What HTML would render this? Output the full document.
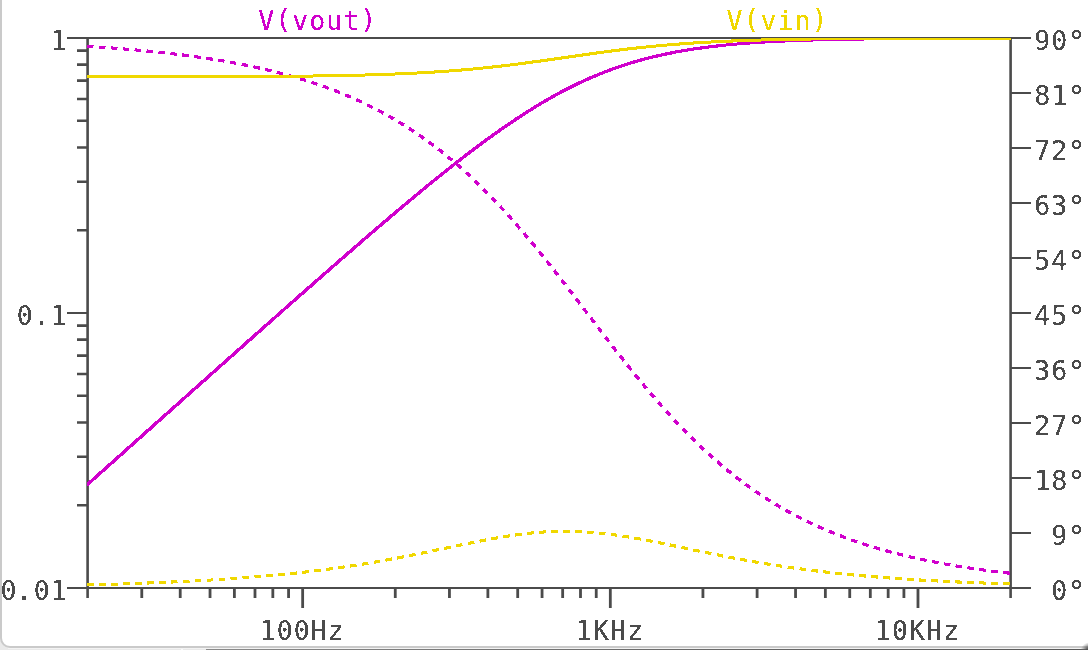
<!DOCTYPE html>
<html><head><meta charset="utf-8"><title>LTspice plot</title>
<style>
html,body{margin:0;padding:0;background:#fff;}
body{width:1088px;height:650px;overflow:hidden;position:relative;}
svg{position:absolute;left:0;top:0;display:block;}
#lbl{will-change:transform;}
text{font-family:"DejaVu Sans Mono","Liberation Mono",monospace;font-size:26.5px;letter-spacing:1.046px;stroke-width:0px;}
</style></head><body>
<svg width="1088" height="650" viewBox="0 0 1088 650">
<defs><linearGradient id="bg" x1="0" x2="1" y1="0" y2="0"><stop offset="0" stop-color="#8a8a8a"/><stop offset="0.5" stop-color="#6c6c6c"/><stop offset="1" stop-color="#585858"/></linearGradient><radialGradient id="cg" cx="1090" cy="652" r="10" gradientUnits="userSpaceOnUse"><stop offset="0" stop-color="#3c3c3c"/><stop offset="0.45" stop-color="#555555" stop-opacity="0.9"/><stop offset="1" stop-color="#777777" stop-opacity="0"/></radialGradient></defs>
<rect x="0" y="0" width="1088" height="650" fill="#e9e9e9"/>
<rect x="8" y="648" width="1078" height="1" fill="#f3f3f3"/>
<rect x="181" y="649" width="2" height="1" fill="#fafafa"/>
<rect x="206" y="649" width="882" height="1" fill="url(#bg)"/>
<rect x="1" y="-20" width="1107" height="667" rx="9" ry="9" fill="#ffffff" stroke="#cacaca" stroke-width="2"/>
<circle cx="1090" cy="652" r="10" fill="url(#cg)"/>
<g stroke="#4b4b4b" fill="none" stroke-linecap="butt">
<path stroke-width="2" d="M67 38.00 H1031 M67 588.00 H1031"/>
<path stroke-width="2.6" d="M87.60 38.00 V598.00 M1010.60 38.00 V598.00"/>
<path stroke-width="2.6" d="M77 505.22 H87.60 M77 456.79 H87.60 M77 422.43 H87.60 M77 395.78 H87.60 M77 374.01 H87.60 M77 355.60 H87.60 M77 339.65 H87.60 M77 325.58 H87.60 M77 230.22 H87.60 M77 181.79 H87.60 M77 147.43 H87.60 M77 120.78 H87.60 M77 99.01 H87.60 M77 80.60 H87.60 M77 64.65 H87.60 M77 50.58 H87.60"/>
<path stroke-width="2" d="M67 313.00 H87.60"/>
<path stroke-width="2" d="M1010.60 533.00 H1031 M1010.60 478.00 H1031 M1010.60 423.00 H1031 M1010.60 368.00 H1031 M1010.60 313.00 H1031 M1010.60 258.00 H1031 M1010.60 203.00 H1031 M1010.60 148.00 H1031 M1010.60 93.00 H1031"/>
<path stroke-width="2.8" d="M141.78 588.00 V598.00 M180.22 588.00 V598.00 M210.03 588.00 V598.00 M234.39 588.00 V598.00 M254.99 588.00 V598.00 M272.83 588.00 V598.00 M288.57 588.00 V598.00 M395.27 588.00 V598.00 M449.44 588.00 V598.00 M487.88 588.00 V598.00 M517.70 588.00 V598.00 M542.06 588.00 V598.00 M562.66 588.00 V598.00 M580.50 588.00 V598.00 M596.24 588.00 V598.00 M702.93 588.00 V598.00 M757.11 588.00 V598.00 M795.55 588.00 V598.00 M825.37 588.00 V598.00 M849.73 588.00 V598.00 M870.32 588.00 V598.00 M888.17 588.00 V598.00 M903.91 588.00 V598.00"/>
<path stroke-width="2.8" d="M302.65 588.00 V608.00 M610.32 588.00 V608.00 M917.98 588.00 V608.00"/>
</g>
<clipPath id="pc"><rect x="86.90" y="38.00" width="924.10" height="553.00"/></clipPath>
<g stroke="none" clip-path="url(#pc)" shape-rendering="crispEdges">
<path fill="#d000cc" d="M85.5 484.1L87.5 482.3L89.5 480.5L91.5 478.7L93.5 476.9L95.5 475.1L97.5 473.3L99.5 471.5L101.5 469.7L103.5 468.0L105.5 466.2L107.5 464.4L109.5 462.6L111.5 460.8L113.5 459.0L115.5 457.2L117.5 455.4L119.5 453.7L121.5 451.9L123.5 450.1L125.5 448.3L127.5 446.5L129.5 444.7L131.5 442.9L133.5 441.1L135.5 439.4L137.5 437.6L139.5 435.8L141.5 434.0L143.5 432.2L145.5 430.4L147.5 428.6L149.5 426.8L151.5 425.1L153.5 423.3L155.5 421.5L157.5 419.7L159.5 417.9L161.6 416.1L163.6 414.3L165.6 412.5L167.6 410.8L169.6 409.0L171.6 407.2L173.6 405.4L175.6 403.6L177.6 401.8L179.6 400.0L181.6 398.3L183.6 396.5L185.6 394.7L187.6 392.9L189.6 391.1L191.6 389.3L193.6 387.5L195.6 385.8L197.6 384.0L199.6 382.2L201.6 380.4L203.6 378.6L205.6 376.8L207.6 375.1L209.6 373.3L211.6 371.5L213.6 369.7L215.6 367.9L217.6 366.1L219.6 364.4L221.6 362.6L223.6 360.8L225.6 359.0L227.6 357.2L229.6 355.5L231.6 353.7L233.6 351.9L235.6 350.1L237.6 348.3L239.6 346.6L241.6 344.8L243.6 343.0L245.6 341.2L247.6 339.4L249.6 337.7L251.7 335.9L253.7 334.1L255.7 332.3L257.7 330.5L259.7 328.8L261.7 327.0L263.7 325.2L265.7 323.4L267.7 321.7L269.7 319.9L271.7 318.1L273.7 316.4L275.7 314.6L277.7 312.8L279.7 311.0L281.7 309.3L283.7 307.5L285.7 305.7L287.7 304.0L289.7 302.2L291.7 300.4L293.7 298.6L295.7 296.9L297.7 295.1L299.7 293.3L301.7 291.6L303.7 289.8L305.7 288.1L307.7 286.3L309.7 284.5L311.7 282.8L313.7 281.0L315.7 279.2L317.7 277.5L319.7 275.7L321.7 274.0L323.7 272.2L325.7 270.5L327.7 268.7L329.7 267.0L331.7 265.2L333.8 263.5L335.8 261.7L337.8 260.0L339.8 258.2L341.8 256.5L343.8 254.7L345.8 253.0L347.8 251.2L349.8 249.5L351.8 247.8L353.8 246.0L355.8 244.3L357.8 242.6L359.8 240.8L361.8 239.1L363.8 237.4L365.8 235.6L367.8 233.9L369.8 232.2L371.8 230.5L373.8 228.7L375.8 227.0L377.8 225.3L379.8 223.6L381.8 221.9L383.8 220.2L385.8 218.5L387.8 216.8L389.8 215.1L391.8 213.4L393.8 211.7L395.8 210.0L397.8 208.3L399.8 206.6L401.9 204.9L403.9 203.2L405.9 201.6L407.9 199.9L409.9 198.2L411.9 196.5L413.9 194.9L415.9 193.2L417.9 191.6L419.9 189.9L421.9 188.2L423.9 186.6L425.9 185.0L427.9 183.3L429.9 181.7L431.9 180.0L433.9 178.4L435.9 176.8L437.9 175.2L439.9 173.6L441.9 172.0L443.9 170.4L445.9 168.8L447.9 167.2L449.9 165.6L451.9 164.0L454.0 162.4L456.0 160.9L458.0 159.3L460.0 157.7L462.0 156.2L464.0 154.6L466.0 153.1L468.0 151.6L470.0 150.0L472.0 148.5L474.0 147.0L476.0 145.5L478.0 144.0L480.0 142.5L482.0 141.0L484.0 139.5L486.0 138.1L488.0 136.6L490.0 135.2L492.1 133.7L494.1 132.3L496.1 130.9L498.1 129.4L500.1 128.0L502.1 126.6L504.1 125.2L506.1 123.8L508.1 122.5L510.1 121.1L512.1 119.8L514.1 118.4L516.1 117.1L518.1 115.8L520.2 114.5L522.2 113.2L524.2 111.9L526.2 110.6L528.2 109.3L530.2 108.1L532.2 106.8L534.2 105.6L536.2 104.3L538.2 103.1L540.2 101.9L542.2 100.7L544.3 99.6L546.3 98.4L548.3 97.3L550.3 96.1L552.3 95.0L554.3 93.9L556.3 92.8L558.3 91.7L560.3 90.6L562.3 89.6L564.4 88.5L566.4 87.5L568.4 86.4L570.4 85.4L572.4 84.4L574.4 83.5L576.4 82.5L578.4 81.5L580.4 80.6L582.4 79.7L584.5 78.7L586.5 77.8L588.5 76.9L590.5 76.1L592.5 75.2L594.5 74.4L596.5 73.5L598.5 72.7L600.5 71.9L602.6 71.1L604.6 70.3L606.6 69.5L608.6 68.8L610.6 68.0L612.6 67.3L614.6 66.6L616.6 65.9L618.7 65.2L620.7 64.5L622.7 63.9L624.7 63.2L626.7 62.6L628.7 61.9L630.7 61.3L632.7 60.7L634.7 60.1L636.8 59.5L638.8 59.0L640.8 58.4L642.8 57.9L644.8 57.3L646.8 56.8L648.8 56.3L650.8 55.8L652.8 55.3L654.8 54.8L656.9 54.4L658.9 53.9L660.9 53.5L662.9 53.0L664.9 52.6L666.9 52.2L668.9 51.8L670.9 51.4L672.9 51.0L674.9 50.6L677.0 50.2L679.0 49.9L681.0 49.5L683.0 49.1L685.0 48.8L687.0 48.5L689.0 48.2L691.0 47.8L693.0 47.5L695.0 47.2L697.0 46.9L699.0 46.7L701.1 46.4L703.1 46.1L705.1 45.9L707.1 45.6L709.1 45.3L711.1 45.1L713.1 44.9L715.1 44.6L717.1 44.4L719.1 44.2L721.1 44.0L723.1 43.8L725.1 43.6L727.1 43.4L729.1 43.2L731.2 43.0L733.2 42.8L735.2 42.6L737.2 42.5L739.2 42.3L741.2 42.1L743.2 42.0L745.2 41.8L747.2 41.7L749.2 41.5L751.2 41.4L753.2 41.2L755.2 41.1L757.2 41.0L759.2 40.8L761.2 40.7L763.2 40.6L765.2 40.5L767.3 40.4L769.3 40.3L771.3 40.1L773.3 40.0L775.3 39.9L777.3 39.8L779.3 39.7L781.3 39.7L783.3 39.6L785.3 39.5L787.3 39.4L789.3 39.3L791.3 39.2L793.3 39.1L795.3 39.1L797.3 39.0L799.3 38.9L801.3 38.9L803.3 38.8L805.3 38.7L807.3 38.7L809.3 38.6L811.3 38.5L813.3 38.5L815.3 38.4L817.3 38.4L819.4 38.3L821.4 38.3L823.4 38.2L825.4 38.2L827.4 38.1L829.4 38.1L831.4 38.0L833.4 38.0L835.4 37.9L837.4 37.9L839.4 37.8L841.4 37.8L843.4 37.8L845.4 37.7L847.4 37.7L849.4 37.7L851.4 37.6L853.4 37.6L855.4 37.6L857.4 37.5L859.4 37.5L861.4 37.5L863.4 37.4L865.4 37.4L867.4 37.4L869.4 37.4L871.4 37.3L873.4 37.3L875.4 37.3L877.4 37.3L879.4 37.2L881.4 37.2L883.4 37.2L885.4 37.2L887.5 37.2L889.5 37.1L891.5 37.1L893.5 37.1L895.5 37.1L897.5 37.1L899.5 37.1L901.5 37.0L903.5 37.0L905.5 37.0L907.5 37.0L909.5 37.0L911.5 37.0L913.5 36.9L915.5 36.9L917.5 36.9L919.5 36.9L921.5 36.9L923.5 36.9L925.5 36.9L927.5 36.9L929.5 36.9L931.5 36.8L933.5 36.8L935.5 36.8L937.5 36.8L939.5 36.8L941.5 36.8L943.5 36.8L945.5 36.8L947.5 36.8L949.5 36.8L951.5 36.8L953.5 36.7L955.5 36.7L957.5 36.7L959.5 36.7L961.5 36.7L963.5 36.7L965.5 36.7L967.5 36.7L969.6 36.7L971.6 36.7L973.6 36.7L975.6 36.7L977.6 36.7L979.6 36.7L981.6 36.7L983.6 36.7L985.6 36.7L987.6 36.6L989.6 36.6L991.6 36.6L993.6 36.6L995.6 36.6L997.6 36.6L999.6 36.6L1001.6 36.6L1003.6 36.6L1005.6 36.6L1007.6 36.6L1009.6 36.6L1011.6 36.6L1011.6 39.6L1009.6 39.6L1007.6 39.6L1005.6 39.6L1003.6 39.6L1001.6 39.6L999.6 39.6L997.6 39.6L995.6 39.6L993.6 39.6L991.6 39.6L989.6 39.6L987.6 39.6L985.6 39.7L983.6 39.7L981.6 39.7L979.6 39.7L977.6 39.7L975.6 39.7L973.6 39.7L971.6 39.7L969.6 39.7L967.6 39.7L965.6 39.7L963.6 39.7L961.6 39.7L959.5 39.7L957.5 39.7L955.5 39.7L953.5 39.7L951.5 39.8L949.5 39.8L947.5 39.8L945.5 39.8L943.5 39.8L941.5 39.8L939.5 39.8L937.5 39.8L935.5 39.8L933.5 39.8L931.5 39.8L929.5 39.9L927.5 39.9L925.5 39.9L923.5 39.9L921.5 39.9L919.5 39.9L917.5 39.9L915.5 39.9L913.5 40.0L911.5 40.0L909.5 40.0L907.5 40.0L905.5 40.0L903.5 40.0L901.5 40.0L899.5 40.1L897.5 40.1L895.5 40.1L893.5 40.1L891.5 40.1L889.5 40.1L887.5 40.2L885.5 40.2L883.5 40.2L881.5 40.2L879.5 40.2L877.5 40.3L875.5 40.3L873.5 40.3L871.5 40.3L869.5 40.4L867.5 40.4L865.5 40.4L863.5 40.5L861.5 40.5L859.5 40.5L857.5 40.5L855.5 40.6L853.5 40.6L851.5 40.6L849.5 40.7L847.4 40.7L845.4 40.7L843.4 40.8L841.4 40.8L839.4 40.9L837.4 40.9L835.4 40.9L833.4 41.0L831.4 41.0L829.4 41.1L827.4 41.1L825.4 41.2L823.4 41.2L821.4 41.3L819.4 41.3L817.4 41.4L815.4 41.4L813.4 41.5L811.4 41.6L809.4 41.6L807.4 41.7L805.4 41.7L803.4 41.8L801.4 41.9L799.4 42.0L797.4 42.0L795.4 42.1L793.4 42.2L791.4 42.3L789.4 42.3L787.4 42.4L785.4 42.5L783.4 42.6L781.4 42.7L779.4 42.8L777.4 42.9L775.4 43.0L773.4 43.1L771.4 43.2L769.4 43.3L767.4 43.4L765.4 43.5L763.4 43.6L761.4 43.8L759.4 43.9L757.4 44.0L755.4 44.1L753.4 44.3L751.4 44.4L749.4 44.6L747.4 44.7L745.4 44.9L743.4 45.0L741.4 45.2L739.4 45.3L737.4 45.5L735.4 45.7L733.4 45.9L731.4 46.1L729.4 46.2L727.4 46.4L725.4 46.6L723.4 46.8L721.4 47.0L719.5 47.3L717.5 47.5L715.5 47.7L713.5 47.9L711.5 48.2L709.5 48.4L707.5 48.7L705.5 48.9L703.5 49.2L701.5 49.5L699.5 49.7L697.5 50.0L695.5 50.3L693.5 50.6L691.5 50.9L689.5 51.2L687.5 51.6L685.5 51.9L683.5 52.2L681.5 52.6L679.5 52.9L677.5 53.3L675.5 53.7L673.5 54.1L671.5 54.5L669.5 54.9L667.5 55.3L665.6 55.7L663.6 56.1L661.6 56.5L659.6 57.0L657.6 57.5L655.6 57.9L653.6 58.4L651.6 58.9L649.6 59.4L647.6 59.9L645.6 60.4L643.6 61.0L641.6 61.5L639.6 62.1L637.6 62.6L635.6 63.2L633.7 63.8L631.7 64.4L629.7 65.0L627.7 65.6L625.7 66.3L623.7 66.9L621.7 67.6L619.7 68.3L617.7 69.0L615.7 69.7L613.7 70.4L611.7 71.1L609.7 71.8L607.7 72.6L605.8 73.4L603.8 74.1L601.8 74.9L599.8 75.7L597.8 76.6L595.8 77.4L593.8 78.2L591.8 79.1L589.8 80.0L587.8 80.8L585.8 81.7L583.8 82.7L581.8 83.6L579.8 84.5L577.8 85.5L575.9 86.4L573.9 87.4L571.9 88.4L569.9 89.4L567.9 90.4L565.9 91.5L563.9 92.5L561.9 93.6L559.9 94.6L557.9 95.7L555.9 96.8L553.9 97.9L551.9 99.0L549.9 100.2L547.9 101.3L545.9 102.5L543.9 103.6L541.9 104.8L540.0 106.0L538.0 107.2L536.0 108.4L534.0 109.7L532.0 110.9L530.0 112.2L528.0 113.4L526.0 114.7L524.0 116.0L522.0 117.3L520.0 118.6L518.0 119.9L516.0 121.2L514.0 122.6L512.0 123.9L510.0 125.3L508.0 126.6L506.0 128.0L504.0 129.4L502.0 130.8L500.0 132.2L498.0 133.6L496.0 135.0L494.0 136.5L492.0 137.9L490.0 139.3L488.0 140.8L486.0 142.3L484.0 143.7L482.0 145.2L480.0 146.7L478.0 148.2L476.0 149.7L474.0 151.2L472.0 152.7L470.0 154.2L468.0 155.8L466.0 157.3L464.0 158.9L462.0 160.4L460.0 162.0L458.0 163.5L456.0 165.1L454.0 166.7L452.0 168.2L450.0 169.8L448.0 171.4L446.0 173.0L444.0 174.6L442.0 176.2L440.0 177.8L438.0 179.4L436.0 181.1L434.0 182.7L432.0 184.3L430.0 185.9L428.0 187.6L426.0 189.2L424.0 190.9L422.0 192.5L420.0 194.2L418.0 195.8L416.0 197.5L414.0 199.1L412.0 200.8L410.0 202.5L408.0 204.2L406.0 205.8L404.0 207.5L402.0 209.2L400.0 210.9L398.0 212.6L396.0 214.3L394.0 216.0L392.0 217.7L390.0 219.4L388.0 221.1L386.0 222.8L384.0 224.5L382.0 226.2L380.0 227.9L378.0 229.6L376.0 231.3L374.0 233.0L372.0 234.8L370.0 236.5L368.0 238.2L366.0 239.9L364.0 241.7L362.0 243.4L360.0 245.1L358.0 246.9L356.0 248.6L354.0 250.3L352.0 252.1L350.0 253.8L348.0 255.5L346.0 257.3L344.0 259.0L342.0 260.8L340.0 262.5L338.0 264.3L336.0 266.0L334.0 267.8L332.0 269.5L330.0 271.3L328.0 273.0L326.0 274.8L324.0 276.5L322.0 278.3L320.0 280.0L318.0 281.8L316.0 283.6L314.0 285.3L312.0 287.1L310.0 288.8L308.0 290.6L306.0 292.4L304.0 294.1L302.0 295.9L300.0 297.7L298.0 299.4L295.9 301.2L293.9 303.0L291.9 304.7L289.9 306.5L287.9 308.3L285.9 310.0L283.9 311.8L281.9 313.6L279.9 315.3L277.9 317.1L275.9 318.9L273.9 320.7L271.9 322.4L269.9 324.2L267.9 326.0L265.9 327.8L263.9 329.5L261.9 331.3L259.9 333.1L257.9 334.9L255.9 336.6L253.9 338.4L251.9 340.2L249.9 342.0L247.9 343.8L245.9 345.5L243.9 347.3L241.9 349.1L239.9 350.9L237.9 352.7L235.9 354.4L233.9 356.2L231.9 358.0L229.9 359.8L227.9 361.6L225.9 363.3L223.9 365.1L221.9 366.9L219.9 368.7L217.9 370.5L215.9 372.2L213.9 374.0L211.9 375.8L209.9 377.6L207.9 379.4L205.9 381.2L203.9 382.9L201.9 384.7L199.9 386.5L197.8 388.3L195.8 390.1L193.8 391.9L191.8 393.7L189.8 395.4L187.8 397.2L185.8 399.0L183.8 400.8L181.8 402.6L179.8 404.4L177.8 406.2L175.8 407.9L173.8 409.7L171.8 411.5L169.8 413.3L167.8 415.1L165.8 416.9L163.8 418.7L161.8 420.4L159.8 422.2L157.8 424.0L155.8 425.8L153.8 427.6L151.8 429.4L149.8 431.2L147.8 432.9L145.8 434.7L143.8 436.5L141.8 438.3L139.8 440.1L137.8 441.9L135.8 443.7L133.8 445.5L131.8 447.2L129.8 449.0L127.8 450.8L125.8 452.6L123.8 454.4L121.8 456.2L119.8 458.0L117.8 459.8L115.8 461.6L113.8 463.3L111.8 465.1L109.8 466.9L107.8 468.7L105.8 470.5L103.7 472.3L101.7 474.1L99.7 475.9L97.7 477.6L95.7 479.4L93.7 481.2L91.7 483.0L89.7 484.8L87.7 486.6Z"/>
<path fill="#d000cc" d="M86.8 44.8L88.7 44.9L90.7 45.0L92.7 45.1L93.6 45.2L93.4 48.2L92.5 48.2L90.5 48.0L88.5 47.9L86.6 47.8ZM98.7 45.5L100.7 45.7L102.7 45.8L104.7 45.9L105.6 46.0L105.4 49.1L104.5 49.0L102.5 48.9L100.5 48.7L98.5 48.6ZM110.7 46.4L112.7 46.5L114.7 46.7L116.8 46.8L117.6 46.9L117.3 49.9L116.5 49.9L114.5 49.7L112.5 49.6L110.5 49.4ZM122.7 47.3L124.8 47.5L126.8 47.6L128.8 47.8L129.5 47.9L129.3 50.9L128.5 50.9L126.5 50.7L124.5 50.5L122.5 50.4ZM134.7 48.3L134.8 48.3L136.8 48.5L138.8 48.7L140.8 48.9L141.5 48.9L141.2 52.0L140.5 51.9L138.5 51.7L136.5 51.6L134.5 51.4L134.4 51.4ZM146.7 49.4L146.8 49.4L148.8 49.6L150.8 49.8L152.8 50.0L153.4 50.1L153.1 53.2L152.5 53.1L150.5 52.9L148.5 52.7L146.5 52.5L146.4 52.5ZM158.6 50.6L158.8 50.6L160.8 50.9L162.8 51.1L164.9 51.3L165.4 51.4L165.0 54.4L164.5 54.4L162.5 54.1L160.5 53.9L158.5 53.7L158.3 53.7ZM170.6 51.9L170.9 52.0L172.9 52.2L174.9 52.5L176.9 52.7L177.3 52.7L176.9 55.8L176.5 55.8L174.5 55.5L172.5 55.3L170.5 55.1L170.2 55.0ZM182.5 53.4L182.9 53.4L184.9 53.7L186.9 54.0L188.9 54.2L189.2 54.3L188.8 57.3L188.5 57.3L186.5 57.0L184.5 56.8L182.5 56.5L182.1 56.5ZM194.4 55.0L194.9 55.0L196.9 55.3L198.9 55.6L200.9 55.9L201.1 55.9L200.7 59.0L200.5 59.0L198.5 58.7L196.5 58.4L194.5 58.1L194.0 58.0ZM206.3 56.7L207.0 56.8L209.0 57.1L211.0 57.4L213.0 57.7L212.5 60.8L210.5 60.5L208.5 60.2L206.5 59.9L205.9 59.8ZM218.2 58.5L219.0 58.7L221.0 59.0L223.0 59.3L224.8 59.7L224.3 62.7L222.5 62.4L220.5 62.1L218.5 61.8L217.7 61.6ZM230.1 60.6L231.0 60.8L233.0 61.1L235.0 61.5L236.6 61.8L236.1 64.9L234.5 64.6L232.5 64.2L230.5 63.8L229.5 63.7ZM241.9 62.8L243.1 63.0L245.1 63.4L247.1 63.8L248.4 64.1L247.8 67.2L246.5 66.9L244.5 66.5L242.5 66.1L241.3 65.9ZM253.7 65.2L255.1 65.5L257.1 66.0L259.1 66.4L260.2 66.6L259.5 69.7L258.4 69.5L256.4 69.0L254.4 68.6L253.1 68.3ZM265.5 67.8L267.2 68.2L269.2 68.7L271.2 69.2L271.9 69.4L271.1 72.5L270.4 72.3L268.4 71.8L266.4 71.3L264.8 70.9ZM277.2 70.7L279.2 71.2L281.2 71.7L283.2 72.3L283.5 72.3L282.7 75.4L282.4 75.4L280.4 74.8L278.4 74.3L276.4 73.8ZM288.8 73.8L289.2 73.9L291.3 74.5L293.3 75.0L295.1 75.6L294.2 78.6L292.4 78.1L290.4 77.5L288.4 77.0L288.0 76.9ZM300.4 77.1L301.3 77.4L303.3 78.0L305.3 78.6L306.6 79.0L305.6 82.1L304.4 81.7L302.4 81.1L300.4 80.5L299.5 80.2ZM311.9 80.7L313.4 81.2L315.4 81.9L317.4 82.6L318.0 82.8L317.0 85.8L316.3 85.6L314.3 84.9L312.3 84.3L310.9 83.8ZM323.3 84.6L323.4 84.6L325.4 85.4L327.4 86.1L329.3 86.8L328.2 89.9L326.3 89.2L324.3 88.4L322.3 87.7L322.3 87.7ZM334.7 88.8L335.5 89.1L337.5 89.9L339.5 90.7L340.6 91.1L339.3 94.2L338.3 93.7L336.3 93.0L334.3 92.2L333.5 91.9ZM345.9 93.3L347.5 94.0L349.5 94.9L351.5 95.7L351.7 95.8L350.3 98.8L350.2 98.7L348.2 97.9L346.2 97.0L344.6 96.3ZM356.9 98.1L357.6 98.4L359.6 99.3L361.6 100.2L362.6 100.7L361.2 103.7L360.2 103.2L358.2 102.3L356.2 101.4L355.6 101.1ZM367.9 103.2L369.6 104.1L371.7 105.1L373.4 106.0L371.9 109.0L370.2 108.1L368.2 107.1L366.4 106.2ZM378.6 108.7L379.7 109.2L381.7 110.3L383.7 111.4L384.1 111.6L382.5 114.5L382.1 114.3L380.1 113.2L378.1 112.2L377.1 111.6ZM389.2 114.4L389.7 114.7L391.8 115.9L393.8 117.0L394.6 117.5L392.9 120.4L392.1 119.9L390.1 118.8L388.1 117.6L387.6 117.3ZM399.6 120.5L399.8 120.6L401.8 121.8L403.8 123.1L404.9 123.7L403.1 126.6L402.1 125.9L400.1 124.7L398.1 123.5L397.9 123.4ZM409.9 126.9L411.9 128.2L413.9 129.5L415.0 130.3L413.1 133.1L412.0 132.3L410.0 131.0L408.1 129.7ZM419.9 133.6L421.9 135.0L423.9 136.4L424.9 137.1L422.9 139.8L422.0 139.2L420.0 137.8L418.0 136.4ZM429.7 140.6L430.0 140.7L432.0 142.2L434.0 143.7L434.6 144.2L432.6 146.9L432.0 146.4L430.0 144.9L428.0 143.5L427.7 143.3ZM439.4 147.8L440.0 148.3L442.0 149.9L444.0 151.5L444.1 151.6L442.0 154.2L441.9 154.2L439.9 152.6L437.9 151.0L437.3 150.5ZM448.8 155.4L450.1 156.4L452.1 158.1L453.4 159.2L451.2 161.8L449.9 160.7L447.9 159.0L446.6 158.0ZM458.0 163.1L458.1 163.2L460.1 165.0L462.1 166.8L462.5 167.1L460.3 169.6L459.9 169.3L457.9 167.5L455.9 165.8L455.8 165.7ZM467.0 171.1L468.2 172.2L470.2 174.0L471.4 175.2L469.1 177.7L467.9 176.5L465.9 174.7L464.7 173.6ZM475.8 179.3L476.2 179.7L478.2 181.6L480.1 183.5L477.8 185.9L475.8 184.1L473.8 182.2L473.5 181.8ZM484.4 187.7L486.2 189.5L488.2 191.6L488.7 192.0L486.2 194.4L485.8 193.9L483.8 191.9L482.0 190.1ZM492.9 196.3L494.3 197.7L496.3 199.8L497.0 200.6L494.6 203.0L493.8 202.2L491.8 200.1L490.4 198.7ZM501.1 205.0L502.3 206.3L504.3 208.4L505.2 209.5L502.7 211.7L501.8 210.7L499.8 208.6L498.7 207.3ZM509.3 213.9L510.3 215.1L512.3 217.3L513.3 218.4L510.7 220.6L509.8 219.6L507.8 217.3L506.7 216.2ZM517.2 222.9L518.3 224.2L520.4 226.5L521.2 227.4L518.6 229.7L517.8 228.7L515.8 226.4L514.7 225.1ZM525.1 232.0L526.4 233.5L528.4 235.9L529.0 236.6L526.4 238.8L525.8 238.1L523.8 235.7L522.5 234.2ZM532.8 241.2L534.4 243.1L536.4 245.5L536.7 245.9L534.0 248.0L533.8 247.7L531.8 245.3L530.2 243.4ZM540.4 250.5L542.4 252.9L544.2 255.2L541.6 257.3L539.8 255.0L537.8 252.6ZM548.0 259.8L548.4 260.4L550.4 262.9L551.7 264.6L549.1 266.7L547.8 265.0L545.8 262.5L545.3 262.0ZM555.4 269.3L556.4 270.5L558.4 273.1L559.2 274.0L556.5 276.1L555.8 275.2L553.8 272.6L552.8 271.4ZM562.8 278.7L564.5 280.8L566.5 283.4L566.5 283.5L563.9 285.6L563.8 285.5L561.8 282.9L560.2 280.8ZM570.2 288.2L570.5 288.6L572.5 291.2L573.9 293.0L571.2 295.1L569.8 293.3L567.8 290.7L567.5 290.3ZM577.5 297.7L578.5 299.0L580.5 301.6L581.2 302.5L578.5 304.6L577.8 303.7L575.8 301.1L574.8 299.8ZM584.8 307.3L586.5 309.5L588.4 312.1L585.8 314.1L583.8 311.6L582.1 309.3ZM592.1 316.8L592.5 317.4L594.5 320.0L595.7 321.6L593.0 323.7L591.8 322.1L589.8 319.4L589.4 318.9ZM599.3 326.3L600.5 327.8L602.5 330.5L603.0 331.1L600.3 333.2L599.8 332.5L597.8 329.9L596.7 328.4ZM606.7 335.9L608.5 338.3L610.3 340.6L607.7 342.7L605.8 340.3L604.0 337.9ZM614.0 345.3L614.5 346.0L616.5 348.6L617.7 350.1L615.0 352.2L613.8 350.7L611.8 348.1L611.3 347.4ZM621.4 354.8L622.5 356.2L624.5 358.8L625.1 359.5L622.5 361.6L621.9 360.9L619.8 358.3L618.7 356.9ZM628.8 364.2L630.5 366.3L632.5 368.8L632.6 368.9L630.0 371.0L629.9 370.9L627.9 368.4L626.2 366.3ZM636.3 373.5L636.5 373.7L638.5 376.2L640.2 378.2L637.5 380.3L635.9 378.3L633.9 375.9L633.7 375.7ZM644.0 382.8L644.5 383.4L646.5 385.8L647.8 387.4L645.2 389.6L643.9 388.0L641.9 385.6L641.3 384.9ZM651.7 392.0L652.5 392.9L654.5 395.3L655.6 396.5L653.0 398.7L651.9 397.5L649.9 395.1L649.1 394.2ZM659.5 401.0L660.5 402.2L662.5 404.5L663.4 405.5L660.9 407.8L659.9 406.7L657.9 404.4L656.9 403.3ZM667.4 410.0L668.5 411.2L670.5 413.4L671.5 414.4L669.0 416.7L668.0 415.6L666.0 413.4L664.9 412.3ZM675.5 418.8L676.5 419.8L678.5 422.0L679.6 423.2L677.2 425.5L676.0 424.3L674.0 422.2L673.0 421.1ZM683.8 427.5L684.5 428.2L686.5 430.3L687.9 431.8L685.5 434.2L684.0 432.7L682.0 430.6L681.3 429.9ZM692.2 436.0L692.5 436.3L694.4 438.3L696.4 440.2L694.1 442.7L692.1 440.7L690.1 438.7L689.8 438.4ZM700.7 444.4L702.4 446.0L704.4 447.8L705.1 448.5L702.8 451.0L702.1 450.3L700.1 448.4L698.4 446.8ZM709.5 452.5L710.4 453.3L712.4 455.1L713.9 456.5L711.7 459.1L710.1 457.7L708.1 455.9L707.2 455.0ZM718.4 460.4L720.4 462.1L722.4 463.8L723.0 464.3L720.8 466.9L720.2 466.4L718.2 464.7L716.2 463.0ZM727.6 468.2L728.4 468.8L730.4 470.4L732.2 471.9L730.1 474.6L728.2 473.1L726.2 471.4L725.4 470.8ZM736.9 475.6L738.3 476.7L740.3 478.2L741.7 479.3L739.6 482.0L738.3 480.9L736.3 479.4L734.8 478.3ZM746.4 482.8L748.3 484.2L750.3 485.6L751.3 486.3L749.4 489.1L748.3 488.3L746.3 486.9L744.4 485.5ZM756.2 489.7L756.3 489.8L758.3 491.2L760.3 492.5L761.2 493.1L759.3 495.9L758.4 495.3L756.4 493.9L754.4 492.6L754.2 492.5ZM766.1 496.4L766.2 496.4L768.2 497.7L770.2 499.0L771.2 499.6L769.4 502.5L768.4 501.8L766.4 500.6L764.4 499.3L764.3 499.2ZM776.2 502.7L778.2 503.9L780.2 505.1L781.5 505.8L779.8 508.7L778.5 507.9L776.5 506.8L774.5 505.5ZM786.5 508.7L788.2 509.6L790.2 510.7L791.9 511.7L790.3 514.6L788.6 513.7L786.5 512.5L784.9 511.6ZM797.0 514.4L798.1 515.0L800.1 516.0L802.1 517.0L802.5 517.2L801.0 520.2L800.6 520.0L798.6 519.0L796.6 518.0L795.5 517.4ZM807.7 519.8L808.1 520.0L810.1 521.0L812.1 521.9L813.2 522.5L811.8 525.5L810.7 524.9L808.7 524.0L806.7 523.0L806.2 522.8ZM818.4 524.9L820.1 525.6L822.1 526.5L824.1 527.4L824.1 527.4L822.8 530.4L822.7 530.4L820.7 529.5L818.7 528.6L817.1 527.9ZM829.4 529.6L830.0 529.9L832.0 530.7L834.0 531.5L835.2 532.0L834.0 535.1L832.8 534.6L830.8 533.8L828.8 532.9L828.1 532.7ZM840.5 534.1L842.0 534.7L844.0 535.4L846.0 536.2L846.4 536.3L845.2 539.4L844.9 539.3L842.8 538.5L840.8 537.7L839.3 537.1ZM851.6 538.3L852.0 538.4L854.0 539.1L856.0 539.8L857.6 540.4L856.6 543.4L854.9 542.8L852.9 542.1L850.9 541.4L850.5 541.3ZM862.9 542.1L863.9 542.5L865.9 543.1L867.9 543.7L869.0 544.1L868.1 547.2L867.0 546.8L864.9 546.2L862.9 545.5L861.9 545.2ZM874.3 545.7L875.9 546.2L877.9 546.8L879.9 547.4L880.5 547.5L879.6 550.6L879.0 550.5L877.0 549.9L875.0 549.3L873.4 548.8ZM885.8 549.1L885.9 549.1L887.9 549.6L889.9 550.2L891.9 550.7L892.0 550.8L891.2 553.8L891.1 553.8L889.1 553.3L887.0 552.7L885.0 552.2L884.9 552.1ZM897.3 552.1L897.9 552.3L899.9 552.8L901.9 553.3L903.7 553.7L902.9 556.8L901.1 556.4L899.1 555.9L897.1 555.4L896.5 555.2ZM908.9 555.0L909.8 555.2L911.8 555.7L913.8 556.1L915.3 556.4L914.6 559.5L913.1 559.2L911.1 558.8L909.1 558.3L908.2 558.1ZM920.6 557.6L921.8 557.9L923.8 558.3L925.8 558.7L927.0 559.0L926.4 562.1L925.2 561.8L923.2 561.4L921.2 561.0L919.9 560.7ZM932.3 560.0L933.8 560.3L935.8 560.7L937.8 561.1L938.8 561.3L938.2 564.4L937.2 564.2L935.2 563.8L933.2 563.4L931.7 563.1ZM944.1 562.2L945.8 562.6L947.8 562.9L949.8 563.3L950.6 563.4L950.1 566.5L949.3 566.4L947.3 566.0L945.3 565.6L943.5 565.3ZM955.9 564.3L957.8 564.6L959.8 564.9L961.8 565.3L962.4 565.4L962.0 568.4L961.3 568.3L959.3 568.0L957.3 567.7L955.3 567.4ZM967.7 566.2L967.8 566.2L969.8 566.5L971.8 566.8L973.8 567.1L974.3 567.2L973.9 570.2L973.3 570.2L971.3 569.9L969.3 569.6L967.3 569.3L967.2 569.3ZM979.5 567.9L979.8 567.9L981.8 568.2L983.8 568.5L985.8 568.7L986.2 568.8L985.8 571.9L985.4 571.8L983.4 571.6L981.4 571.3L979.4 571.0L979.1 571.0ZM991.4 569.5L991.8 569.5L993.8 569.8L995.8 570.0L997.8 570.3L998.1 570.3L997.7 573.4L997.4 573.3L995.4 573.1L993.4 572.8L991.4 572.6L991.0 572.5ZM1003.3 570.9L1003.8 571.0L1005.8 571.2L1007.8 571.4L1009.8 571.7L1010.0 571.7L1009.7 574.8L1009.4 574.7L1007.4 574.5L1005.4 574.3L1003.4 574.0L1002.9 574.0Z"/>
<path fill="#f0d800" d="M86.6 75.3L88.6 75.3L90.6 75.3L92.6 75.3L94.6 75.3L96.6 75.3L98.6 75.3L100.6 75.3L102.6 75.3L104.6 75.3L106.6 75.3L108.6 75.3L110.6 75.3L112.6 75.3L114.6 75.3L116.6 75.3L118.6 75.3L120.6 75.3L122.6 75.3L124.6 75.3L126.6 75.3L128.6 75.3L130.6 75.3L132.6 75.3L134.7 75.3L136.7 75.3L138.7 75.3L140.7 75.3L142.7 75.3L144.7 75.3L146.7 75.3L148.7 75.3L150.7 75.3L152.7 75.3L154.7 75.3L156.7 75.3L158.7 75.3L160.7 75.3L162.7 75.3L164.7 75.3L166.7 75.3L168.7 75.2L170.7 75.2L172.7 75.2L174.7 75.2L176.7 75.2L178.7 75.2L180.7 75.2L182.7 75.2L184.7 75.2L186.7 75.2L188.7 75.2L190.7 75.2L192.7 75.2L194.7 75.2L196.7 75.2L198.7 75.2L200.7 75.2L202.7 75.2L204.7 75.2L206.7 75.2L208.7 75.2L210.7 75.2L212.7 75.2L214.7 75.1L216.7 75.1L218.7 75.1L220.7 75.1L222.7 75.1L224.7 75.1L226.7 75.1L228.7 75.1L230.7 75.1L232.8 75.1L234.8 75.1L236.8 75.1L238.8 75.1L240.8 75.0L242.8 75.0L244.8 75.0L246.8 75.0L248.8 75.0L250.8 75.0L252.8 75.0L254.8 75.0L256.8 75.0L258.8 75.0L260.8 74.9L262.8 74.9L264.8 74.9L266.8 74.9L268.8 74.9L270.8 74.9L272.8 74.9L274.8 74.8L276.8 74.8L278.8 74.8L280.8 74.8L282.8 74.8L284.8 74.8L286.8 74.7L288.8 74.7L290.8 74.7L292.8 74.7L294.8 74.7L296.8 74.7L298.8 74.6L300.8 74.6L302.8 74.6L304.8 74.6L306.8 74.5L308.8 74.5L310.8 74.5L312.8 74.5L314.8 74.4L316.8 74.4L318.8 74.4L320.8 74.4L322.8 74.3L324.8 74.3L326.8 74.3L328.8 74.2L330.8 74.2L332.8 74.2L334.8 74.1L336.8 74.1L338.8 74.1L340.8 74.0L342.8 74.0L344.8 73.9L346.8 73.9L348.9 73.9L350.9 73.8L352.9 73.8L354.9 73.7L356.9 73.7L358.9 73.6L360.9 73.6L362.9 73.5L364.9 73.5L366.9 73.4L368.9 73.4L370.9 73.3L372.9 73.2L374.9 73.2L376.9 73.1L378.9 73.1L380.9 73.0L382.9 72.9L384.9 72.9L386.9 72.8L388.9 72.7L390.9 72.6L392.9 72.6L394.9 72.5L396.9 72.4L398.9 72.3L400.9 72.2L402.9 72.2L404.9 72.1L406.9 72.0L408.9 71.9L410.9 71.8L412.9 71.7L414.9 71.6L416.9 71.5L418.9 71.4L420.9 71.3L422.9 71.2L424.9 71.0L426.9 70.9L428.9 70.8L430.9 70.7L432.9 70.6L434.9 70.4L436.9 70.3L438.9 70.2L440.9 70.0L442.9 69.9L444.9 69.8L446.9 69.6L448.9 69.5L450.9 69.3L452.9 69.2L454.9 69.0L456.9 68.8L458.9 68.7L460.9 68.5L462.9 68.3L464.9 68.2L466.9 68.0L468.9 67.8L470.9 67.6L472.9 67.5L474.9 67.3L476.9 67.1L478.9 66.9L480.9 66.7L482.9 66.5L484.9 66.3L486.9 66.1L488.9 65.8L490.9 65.6L492.9 65.4L494.9 65.2L496.9 65.0L498.9 64.7L500.9 64.5L502.9 64.3L504.9 64.0L506.9 63.8L508.9 63.6L510.9 63.3L512.9 63.1L514.9 62.8L516.9 62.6L518.9 62.3L520.9 62.0L522.9 61.8L524.9 61.5L526.9 61.3L528.9 61.0L530.9 60.7L532.9 60.4L534.9 60.2L536.9 59.9L538.9 59.6L540.9 59.3L542.9 59.1L544.9 58.8L546.9 58.5L548.9 58.2L550.9 57.9L552.9 57.6L554.9 57.4L556.9 57.1L558.9 56.8L560.9 56.5L562.9 56.2L564.9 55.9L566.9 55.6L568.9 55.3L570.9 55.0L572.9 54.8L574.9 54.5L576.9 54.2L578.9 53.9L580.9 53.6L582.9 53.3L584.9 53.0L586.9 52.8L588.9 52.5L590.9 52.2L592.9 51.9L594.9 51.7L596.9 51.4L598.9 51.1L600.9 50.8L603.0 50.6L605.0 50.3L607.0 50.0L609.0 49.8L611.0 49.5L613.0 49.3L615.0 49.0L617.0 48.8L619.0 48.5L621.0 48.3L623.0 48.0L625.0 47.8L627.0 47.5L629.0 47.3L631.0 47.1L633.0 46.9L635.0 46.6L637.0 46.4L639.0 46.2L641.0 46.0L643.0 45.8L645.0 45.6L647.0 45.3L649.1 45.1L651.1 44.9L653.1 44.8L655.1 44.6L657.1 44.4L659.1 44.2L661.1 44.0L663.1 43.8L665.1 43.6L667.1 43.5L669.1 43.3L671.1 43.1L673.1 43.0L675.1 42.8L677.1 42.7L679.1 42.5L681.1 42.4L683.1 42.2L685.1 42.1L687.1 41.9L689.1 41.8L691.2 41.7L693.2 41.5L695.2 41.4L697.2 41.3L699.2 41.1L701.2 41.0L703.2 40.9L705.2 40.8L707.2 40.7L709.2 40.6L711.2 40.5L713.2 40.4L715.2 40.3L717.2 40.2L719.2 40.1L721.2 40.0L723.2 39.9L725.2 39.8L727.2 39.7L729.2 39.6L731.2 39.5L733.2 39.4L735.2 39.4L737.2 39.3L739.2 39.2L741.3 39.1L743.3 39.1L745.3 39.0L747.3 38.9L749.3 38.8L751.3 38.8L753.3 38.7L755.3 38.7L757.3 38.6L759.3 38.5L761.3 38.5L763.3 38.4L765.3 38.4L767.3 38.3L769.3 38.3L771.3 38.2L773.3 38.2L775.3 38.1L777.3 38.1L779.3 38.0L781.3 38.0L783.3 37.9L785.3 37.9L787.3 37.9L789.3 37.8L791.3 37.8L793.3 37.8L795.3 37.7L797.3 37.7L799.3 37.6L801.3 37.6L803.4 37.6L805.4 37.6L807.4 37.5L809.4 37.5L811.4 37.5L813.4 37.4L815.4 37.4L817.4 37.4L819.4 37.4L821.4 37.3L823.4 37.3L825.4 37.3L827.4 37.3L829.4 37.2L831.4 37.2L833.4 37.2L835.4 37.2L837.4 37.2L839.4 37.1L841.4 37.1L843.4 37.1L845.4 37.1L847.4 37.1L849.4 37.1L851.4 37.0L853.4 37.0L855.4 37.0L857.4 37.0L859.4 37.0L861.4 37.0L863.4 36.9L865.4 36.9L867.4 36.9L869.4 36.9L871.4 36.9L873.4 36.9L875.4 36.9L877.4 36.9L879.4 36.9L881.5 36.8L883.5 36.8L885.5 36.8L887.5 36.8L889.5 36.8L891.5 36.8L893.5 36.8L895.5 36.8L897.5 36.8L899.5 36.8L901.5 36.8L903.5 36.7L905.5 36.7L907.5 36.7L909.5 36.7L911.5 36.7L913.5 36.7L915.5 36.7L917.5 36.7L919.5 36.7L921.5 36.7L923.5 36.7L925.5 36.7L927.5 36.7L929.5 36.7L931.5 36.7L933.5 36.7L935.5 36.7L937.5 36.6L939.5 36.6L941.5 36.6L943.5 36.6L945.5 36.6L947.5 36.6L949.5 36.6L951.5 36.6L953.5 36.6L955.5 36.6L957.5 36.6L959.5 36.6L961.5 36.6L963.5 36.6L965.5 36.6L967.6 36.6L969.6 36.6L971.6 36.6L973.6 36.6L975.6 36.6L977.6 36.6L979.6 36.6L981.6 36.6L983.6 36.6L985.6 36.6L987.6 36.6L989.6 36.6L991.6 36.6L993.6 36.6L995.6 36.6L997.6 36.6L999.6 36.6L1001.6 36.6L1003.6 36.6L1005.6 36.6L1007.6 36.6L1009.6 36.6L1011.6 36.5L1011.6 39.5L1009.6 39.6L1007.6 39.6L1005.6 39.6L1003.6 39.6L1001.6 39.6L999.6 39.6L997.6 39.6L995.6 39.6L993.6 39.6L991.6 39.6L989.6 39.6L987.6 39.6L985.6 39.6L983.6 39.6L981.6 39.6L979.6 39.6L977.6 39.6L975.6 39.6L973.6 39.6L971.6 39.6L969.6 39.6L967.6 39.6L965.6 39.6L963.6 39.6L961.5 39.6L959.5 39.6L957.5 39.6L955.5 39.6L953.5 39.6L951.5 39.6L949.5 39.6L947.5 39.6L945.5 39.6L943.5 39.6L941.5 39.6L939.5 39.6L937.5 39.7L935.5 39.7L933.5 39.7L931.5 39.7L929.5 39.7L927.5 39.7L925.5 39.7L923.5 39.7L921.5 39.7L919.5 39.7L917.5 39.7L915.5 39.7L913.5 39.7L911.5 39.7L909.5 39.7L907.5 39.7L905.5 39.7L903.5 39.8L901.5 39.8L899.5 39.8L897.5 39.8L895.5 39.8L893.5 39.8L891.5 39.8L889.5 39.8L887.5 39.8L885.5 39.8L883.5 39.8L881.5 39.8L879.5 39.9L877.5 39.9L875.5 39.9L873.5 39.9L871.5 39.9L869.5 39.9L867.5 39.9L865.5 39.9L863.4 40.0L861.4 40.0L859.4 40.0L857.4 40.0L855.4 40.0L853.4 40.0L851.4 40.0L849.4 40.1L847.4 40.1L845.4 40.1L843.4 40.1L841.4 40.1L839.4 40.1L837.4 40.2L835.4 40.2L833.4 40.2L831.4 40.2L829.4 40.2L827.4 40.3L825.4 40.3L823.4 40.3L821.4 40.3L819.4 40.4L817.4 40.4L815.4 40.4L813.4 40.4L811.4 40.5L809.4 40.5L807.4 40.5L805.4 40.6L803.4 40.6L801.4 40.6L799.4 40.7L797.4 40.7L795.4 40.7L793.4 40.8L791.4 40.8L789.4 40.8L787.4 40.9L785.4 40.9L783.4 41.0L781.4 41.0L779.4 41.0L777.4 41.1L775.4 41.1L773.4 41.2L771.4 41.2L769.4 41.3L767.4 41.3L765.4 41.4L763.4 41.4L761.4 41.5L759.4 41.6L757.4 41.6L755.4 41.7L753.4 41.7L751.4 41.8L749.4 41.9L747.4 41.9L745.4 42.0L743.4 42.1L741.4 42.2L739.4 42.2L737.4 42.3L735.4 42.4L733.4 42.5L731.4 42.5L729.4 42.6L727.4 42.7L725.4 42.8L723.4 42.9L721.4 43.0L719.4 43.1L717.4 43.2L715.4 43.3L713.4 43.4L711.4 43.5L709.4 43.6L707.4 43.7L705.4 43.8L703.4 43.9L701.4 44.1L699.4 44.2L697.4 44.3L695.4 44.4L693.4 44.6L691.4 44.7L689.4 44.8L687.4 45.0L685.4 45.1L683.4 45.3L681.4 45.4L679.4 45.6L677.4 45.7L675.4 45.9L673.4 46.0L671.4 46.2L669.4 46.4L667.4 46.5L665.4 46.7L663.4 46.9L661.4 47.1L659.4 47.2L657.4 47.4L655.4 47.6L653.4 47.8L651.4 48.0L649.4 48.2L647.4 48.4L645.4 48.6L643.4 48.8L641.4 49.0L639.4 49.3L637.4 49.5L635.4 49.7L633.4 49.9L631.4 50.1L629.4 50.4L627.4 50.6L625.4 50.9L623.4 51.1L621.4 51.3L619.4 51.6L617.4 51.8L615.4 52.1L613.4 52.3L611.4 52.6L609.4 52.9L607.4 53.1L605.4 53.4L603.4 53.6L601.4 53.9L599.4 54.2L597.4 54.5L595.4 54.7L593.4 55.0L591.4 55.3L589.4 55.6L587.4 55.8L585.4 56.1L583.4 56.4L581.4 56.7L579.4 57.0L577.4 57.3L575.3 57.6L573.3 57.8L571.3 58.1L569.3 58.4L567.3 58.7L565.3 59.0L563.3 59.3L561.3 59.6L559.3 59.9L557.3 60.1L555.3 60.4L553.3 60.7L551.3 61.0L549.3 61.3L547.3 61.6L545.3 61.9L543.3 62.1L541.3 62.4L539.3 62.7L537.3 63.0L535.3 63.2L533.3 63.5L531.3 63.8L529.3 64.1L527.3 64.3L525.3 64.6L523.3 64.9L521.3 65.1L519.3 65.4L517.3 65.6L515.3 65.9L513.3 66.1L511.2 66.4L509.2 66.6L507.2 66.9L505.2 67.1L503.2 67.3L501.2 67.6L499.2 67.8L497.2 68.0L495.2 68.3L493.2 68.5L491.2 68.7L489.2 68.9L487.2 69.1L485.2 69.3L483.2 69.5L481.2 69.7L479.2 69.9L477.2 70.1L475.2 70.3L473.2 70.5L471.2 70.7L469.2 70.9L467.1 71.1L465.1 71.2L463.1 71.4L461.1 71.6L459.1 71.7L457.1 71.9L455.1 72.1L453.1 72.2L451.1 72.4L449.1 72.5L447.1 72.7L445.1 72.8L443.1 72.9L441.1 73.1L439.1 73.2L437.1 73.4L435.1 73.5L433.1 73.6L431.1 73.7L429.1 73.9L427.1 74.0L425.1 74.1L423.0 74.2L421.0 74.3L419.0 74.4L417.0 74.5L415.0 74.6L413.0 74.7L411.0 74.8L409.0 74.9L407.0 75.0L405.0 75.1L403.0 75.2L401.0 75.3L399.0 75.4L397.0 75.4L395.0 75.5L393.0 75.6L391.0 75.7L389.0 75.7L387.0 75.8L385.0 75.9L383.0 76.0L381.0 76.0L379.0 76.1L377.0 76.1L375.0 76.2L373.0 76.3L371.0 76.3L368.9 76.4L366.9 76.4L364.9 76.5L362.9 76.5L360.9 76.6L358.9 76.6L356.9 76.7L354.9 76.7L352.9 76.8L350.9 76.8L348.9 76.9L346.9 76.9L344.9 77.0L342.9 77.0L340.9 77.0L338.9 77.1L336.9 77.1L334.9 77.1L332.9 77.2L330.9 77.2L328.9 77.2L326.9 77.3L324.9 77.3L322.9 77.3L320.9 77.4L318.9 77.4L316.9 77.4L314.9 77.4L312.9 77.5L310.9 77.5L308.9 77.5L306.9 77.5L304.9 77.6L302.9 77.6L300.8 77.6L298.8 77.6L296.8 77.7L294.8 77.7L292.8 77.7L290.8 77.7L288.8 77.7L286.8 77.8L284.8 77.8L282.8 77.8L280.8 77.8L278.8 77.8L276.8 77.8L274.8 77.9L272.8 77.9L270.8 77.9L268.8 77.9L266.8 77.9L264.8 77.9L262.8 77.9L260.8 77.9L258.8 78.0L256.8 78.0L254.8 78.0L252.8 78.0L250.8 78.0L248.8 78.0L246.8 78.0L244.8 78.0L242.8 78.0L240.8 78.0L238.8 78.1L236.8 78.1L234.8 78.1L232.8 78.1L230.8 78.1L228.8 78.1L226.8 78.1L224.8 78.1L222.8 78.1L220.8 78.1L218.7 78.1L216.7 78.1L214.7 78.1L212.7 78.2L210.7 78.2L208.7 78.2L206.7 78.2L204.7 78.2L202.7 78.2L200.7 78.2L198.7 78.2L196.7 78.2L194.7 78.2L192.7 78.2L190.7 78.2L188.7 78.2L186.7 78.2L184.7 78.2L182.7 78.2L180.7 78.2L178.7 78.2L176.7 78.2L174.7 78.2L172.7 78.2L170.7 78.2L168.7 78.2L166.7 78.3L164.7 78.3L162.7 78.3L160.7 78.3L158.7 78.3L156.7 78.3L154.7 78.3L152.7 78.3L150.7 78.3L148.7 78.3L146.7 78.3L144.7 78.3L142.7 78.3L140.7 78.3L138.7 78.3L136.7 78.3L134.7 78.3L132.7 78.3L130.6 78.3L128.6 78.3L126.6 78.3L124.6 78.3L122.6 78.3L120.6 78.3L118.6 78.3L116.6 78.3L114.6 78.3L112.6 78.3L110.6 78.3L108.6 78.3L106.6 78.3L104.6 78.3L102.6 78.3L100.6 78.3L98.6 78.3L96.6 78.3L94.6 78.3L92.6 78.3L90.6 78.3L88.6 78.3L86.6 78.3Z"/>
<path fill="#f0d800" d="M86.6 583.3L88.6 583.3L90.6 583.2L92.6 583.2L93.5 583.1L93.6 586.2L92.6 586.2L90.6 586.2L88.6 586.3L86.7 586.3ZM98.6 583.0L100.6 583.0L102.6 582.9L104.6 582.9L105.5 582.8L105.6 585.8L104.7 585.9L102.7 585.9L100.7 586.0L98.7 586.0ZM110.6 582.7L112.6 582.6L114.6 582.6L116.6 582.5L117.5 582.5L117.6 585.5L116.7 585.5L114.7 585.6L112.7 585.7L110.7 585.7ZM122.6 582.3L124.6 582.3L126.6 582.2L128.6 582.1L129.5 582.1L129.6 585.1L128.7 585.2L126.7 585.2L124.7 585.3L122.7 585.4ZM134.6 581.9L136.6 581.9L138.6 581.8L140.6 581.7L141.5 581.7L141.6 584.7L140.7 584.8L138.7 584.8L136.7 584.9L134.7 585.0ZM146.6 581.5L146.6 581.5L148.6 581.4L150.6 581.4L152.6 581.3L153.5 581.2L153.6 584.3L152.7 584.3L150.7 584.4L148.7 584.5L146.7 584.5L146.7 584.5ZM158.5 581.0L158.6 581.0L160.6 581.0L162.6 580.9L164.6 580.8L165.5 580.8L165.6 583.8L164.7 583.8L162.7 583.9L160.7 584.0L158.7 584.1L158.7 584.1ZM170.5 580.5L170.6 580.5L172.6 580.4L174.6 580.4L176.6 580.3L177.4 580.2L177.6 583.3L176.8 583.3L174.8 583.4L172.8 583.5L170.8 583.6L170.7 583.6ZM182.5 580.0L182.6 580.0L184.6 579.9L186.6 579.8L188.6 579.7L189.4 579.6L189.6 582.7L188.8 582.7L186.8 582.8L184.8 582.9L182.8 583.0L182.7 583.0ZM194.5 579.4L194.6 579.4L196.6 579.3L198.6 579.1L200.6 579.0L201.4 579.0L201.5 582.0L200.8 582.1L198.8 582.2L196.8 582.3L194.8 582.4L194.7 582.4ZM206.5 578.7L206.6 578.7L208.6 578.6L210.6 578.5L212.6 578.3L213.3 578.3L213.5 581.3L212.8 581.4L210.8 581.5L208.8 581.6L206.8 581.7L206.7 581.7ZM218.5 578.0L218.6 578.0L220.6 577.8L222.6 577.7L224.6 577.6L225.3 577.5L225.5 580.6L224.8 580.6L222.8 580.8L220.8 580.9L218.8 581.0L218.6 581.0ZM230.4 577.2L230.7 577.2L232.7 577.0L234.7 576.9L236.7 576.8L237.3 576.7L237.5 579.8L236.9 579.8L234.9 580.0L232.9 580.1L230.9 580.2L230.6 580.2ZM242.4 576.3L242.7 576.3L244.7 576.2L246.7 576.0L248.7 575.9L249.2 575.8L249.5 578.9L248.9 578.9L246.9 579.1L244.9 579.2L242.9 579.4L242.6 579.4ZM254.4 575.4L254.7 575.4L256.7 575.2L258.7 575.1L260.7 574.9L261.2 574.8L261.4 577.9L260.9 577.9L258.9 578.1L256.9 578.3L254.9 578.4L254.6 578.5ZM266.3 574.4L266.7 574.4L268.7 574.2L270.7 574.0L272.7 573.8L273.1 573.8L273.4 576.8L272.9 576.9L270.9 577.1L268.9 577.2L266.9 577.4L266.6 577.4ZM278.3 573.3L278.7 573.2L280.7 573.1L282.7 572.9L284.7 572.7L285.0 572.6L285.3 575.7L285.0 575.7L283.0 575.9L281.0 576.1L279.0 576.3L278.5 576.4ZM290.2 572.1L290.7 572.0L292.7 571.8L294.7 571.6L296.7 571.4L296.9 571.4L297.3 574.4L297.0 574.5L295.0 574.7L293.0 574.9L291.0 575.1L290.5 575.2ZM302.1 570.8L302.7 570.7L304.7 570.5L306.7 570.3L308.7 570.0L308.8 570.0L309.2 573.1L309.0 573.1L307.0 573.3L305.0 573.6L303.0 573.8L302.5 573.9ZM314.0 569.4L314.7 569.3L316.7 569.1L318.7 568.8L320.7 568.6L320.7 568.6L321.1 571.6L321.0 571.6L319.0 571.9L317.0 572.2L315.0 572.4L314.4 572.5ZM325.9 567.9L326.7 567.8L328.7 567.5L330.7 567.3L332.6 567.0L333.0 570.1L331.1 570.3L329.1 570.6L327.1 570.9L326.3 571.0ZM337.8 566.3L338.7 566.2L340.7 565.9L342.7 565.6L344.4 565.3L344.9 568.4L343.1 568.7L341.1 568.9L339.1 569.2L338.2 569.4ZM349.7 564.5L350.7 564.4L352.7 564.1L354.7 563.8L356.3 563.5L356.8 566.6L355.1 566.9L353.1 567.2L351.1 567.5L350.1 567.6ZM361.5 562.7L362.6 562.5L364.6 562.2L366.6 561.8L368.1 561.6L368.6 564.7L367.2 564.9L365.2 565.3L363.1 565.6L362.0 565.8ZM373.4 560.7L374.6 560.5L376.6 560.1L378.6 559.8L379.9 559.6L380.5 562.7L379.2 562.9L377.2 563.2L375.2 563.6L373.9 563.8ZM385.2 558.6L386.6 558.4L388.6 558.0L390.6 557.6L391.7 557.4L392.3 560.5L391.2 560.7L389.2 561.1L387.2 561.4L385.7 561.7ZM397.0 556.4L398.6 556.1L400.6 555.7L402.6 555.3L403.5 555.2L404.1 558.3L403.2 558.4L401.2 558.8L399.2 559.2L397.5 559.5ZM408.7 554.1L410.6 553.8L412.6 553.4L414.6 553.0L415.2 552.8L415.8 555.9L415.3 556.0L413.3 556.5L411.3 556.9L409.3 557.2ZM420.5 551.8L420.6 551.7L422.6 551.3L424.6 550.9L426.6 550.5L427.0 550.4L427.6 553.5L427.3 553.6L425.3 554.0L423.3 554.4L421.3 554.8L421.1 554.9ZM432.2 549.3L432.7 549.2L434.7 548.8L436.7 548.4L438.7 548.0L439.3 551.1L437.3 551.5L435.3 551.9L433.3 552.3L432.9 552.4ZM444.0 546.9L444.7 546.7L446.7 546.3L448.7 545.9L450.4 545.5L451.1 548.6L449.3 549.0L447.3 549.4L445.3 549.8L444.6 550.0ZM455.7 544.4L456.7 544.2L458.7 543.8L460.7 543.3L462.2 543.0L462.8 546.1L461.3 546.4L459.3 546.9L457.3 547.3L456.4 547.5ZM467.5 541.9L468.7 541.7L470.7 541.3L472.7 540.9L474.0 540.6L474.6 543.7L473.3 544.0L471.3 544.4L469.3 544.8L468.1 545.0ZM479.2 539.6L480.7 539.3L482.7 538.9L484.7 538.5L485.8 538.3L486.3 541.4L485.3 541.6L483.3 542.0L481.3 542.4L479.8 542.7ZM491.0 537.3L492.8 537.0L494.8 536.7L496.8 536.3L497.6 536.2L498.1 539.3L497.3 539.4L495.3 539.8L493.3 540.1L491.6 540.4ZM502.9 535.3L504.8 535.0L506.8 534.7L508.8 534.4L509.5 534.3L510.0 537.3L509.3 537.4L507.3 537.8L505.3 538.1L503.4 538.4ZM514.7 533.5L514.8 533.5L516.9 533.2L518.9 532.9L520.9 532.7L521.5 532.6L521.8 535.7L521.3 535.8L519.3 536.0L517.3 536.3L515.3 536.6L515.2 536.6ZM526.7 532.0L526.9 532.0L528.9 531.7L530.9 531.5L532.9 531.3L533.5 531.3L533.7 534.4L533.2 534.4L531.2 534.6L529.2 534.8L527.2 535.0L527.0 535.1ZM538.6 530.9L539.0 530.8L541.0 530.7L543.0 530.5L545.0 530.4L545.5 530.4L545.7 533.4L545.2 533.4L543.2 533.6L541.2 533.7L539.2 533.9L538.9 533.9ZM550.6 530.1L551.0 530.1L553.0 530.0L555.1 529.9L557.1 529.9L557.6 529.9L557.6 532.9L557.1 532.9L555.2 533.0L553.2 533.0L551.2 533.1L550.8 533.1ZM562.6 529.8L563.1 529.8L565.1 529.8L567.1 529.8L569.1 529.8L569.7 529.8L569.6 532.8L569.1 532.8L567.1 532.8L565.1 532.8L563.1 532.8L562.7 532.8ZM574.7 529.9L575.2 529.9L577.2 530.0L579.2 530.1L581.2 530.2L581.7 530.2L581.5 533.2L581.1 533.2L579.1 533.1L577.1 533.0L575.1 533.0L574.7 532.9ZM586.8 530.5L587.2 530.5L589.3 530.6L591.3 530.8L593.3 531.0L593.7 531.0L593.4 534.1L593.0 534.0L591.0 533.9L589.0 533.7L587.0 533.6L586.6 533.5ZM598.8 531.5L599.3 531.5L601.3 531.7L603.3 531.9L605.3 532.2L605.6 532.2L605.3 535.3L605.0 535.2L603.0 535.0L601.0 534.8L599.0 534.6L598.6 534.5ZM610.8 532.8L611.4 532.9L613.4 533.2L615.4 533.4L617.4 533.7L617.6 533.7L617.1 536.8L617.0 536.8L615.0 536.5L613.0 536.2L611.0 536.0L610.5 535.9ZM622.8 534.5L623.4 534.6L625.4 534.9L627.4 535.3L629.4 535.6L628.9 538.7L626.9 538.3L624.9 538.0L622.9 537.7L622.3 537.6ZM634.7 536.5L635.5 536.6L637.5 537.0L639.5 537.3L641.2 537.7L640.7 540.7L638.9 540.4L636.9 540.1L634.9 539.7L634.1 539.6ZM646.5 538.6L647.5 538.8L649.5 539.2L651.5 539.6L653.0 539.9L652.4 543.0L650.9 542.7L648.9 542.3L646.9 541.9L645.9 541.7ZM658.3 541.0L659.5 541.2L661.5 541.6L663.5 542.0L664.8 542.3L664.2 545.4L662.9 545.1L660.9 544.7L658.9 544.3L657.7 544.1ZM670.1 543.4L671.6 543.7L673.6 544.1L675.6 544.5L676.5 544.7L675.9 547.8L674.9 547.6L672.9 547.2L670.9 546.8L669.4 546.5ZM681.8 545.9L683.6 546.2L685.6 546.6L687.6 547.1L688.3 547.2L687.6 550.3L686.9 550.2L684.9 549.7L682.9 549.3L681.2 548.9ZM693.6 548.3L695.6 548.8L697.6 549.2L699.6 549.6L700.0 549.7L699.4 552.8L698.9 552.7L696.9 552.3L694.9 551.8L692.9 551.4ZM705.3 550.8L705.6 550.8L707.6 551.3L709.6 551.7L711.6 552.1L711.8 552.1L711.1 555.2L711.0 555.2L709.0 554.8L707.0 554.3L704.9 553.9L704.7 553.9ZM717.1 553.2L717.6 553.3L719.6 553.7L721.6 554.1L723.5 554.5L722.9 557.6L721.0 557.2L719.0 556.8L717.0 556.4L716.4 556.3ZM728.8 555.5L729.6 555.7L731.6 556.0L733.6 556.4L735.3 556.8L734.7 559.8L733.0 559.5L731.0 559.1L729.0 558.8L728.2 558.6ZM740.6 557.7L741.6 557.9L743.6 558.3L745.6 558.7L747.1 558.9L746.6 562.0L745.0 561.7L743.0 561.4L741.0 561.0L740.0 560.8ZM752.4 559.9L753.6 560.1L755.6 560.4L757.6 560.8L758.9 561.0L758.4 564.1L757.1 563.9L755.1 563.5L753.1 563.2L751.8 563.0ZM764.2 561.9L765.6 562.1L767.6 562.4L769.6 562.8L770.8 563.0L770.3 566.0L769.1 565.9L767.1 565.5L765.1 565.2L763.7 565.0ZM776.0 563.8L777.6 564.0L779.6 564.3L781.6 564.6L782.6 564.8L782.1 567.9L781.1 567.7L779.1 567.4L777.1 567.1L775.5 566.9ZM787.8 565.6L789.6 565.8L791.6 566.1L793.6 566.4L794.5 566.5L794.1 569.6L793.1 569.5L791.1 569.2L789.1 568.9L787.4 568.6ZM799.7 567.2L801.6 567.5L803.6 567.8L805.6 568.0L806.4 568.1L806.0 571.2L805.2 571.1L803.2 570.8L801.2 570.6L799.3 570.3ZM811.6 568.8L813.6 569.0L815.6 569.3L817.6 569.5L818.3 569.6L817.9 572.7L817.2 572.6L815.2 572.4L813.2 572.1L811.2 571.9ZM823.5 570.2L823.6 570.2L825.6 570.5L827.6 570.7L829.6 570.9L830.2 571.0L829.8 574.1L829.2 574.0L827.2 573.8L825.2 573.5L823.2 573.3L823.1 573.3ZM835.4 571.6L835.6 571.6L837.6 571.8L839.6 572.0L841.6 572.2L842.1 572.3L841.8 575.3L841.3 575.3L839.3 575.1L837.2 574.9L835.2 574.7L835.0 574.6ZM847.3 572.8L847.6 572.8L849.6 573.0L851.6 573.2L853.6 573.4L854.0 573.5L853.8 576.5L853.3 576.5L851.3 576.3L849.3 576.1L847.3 575.9L847.0 575.9ZM859.2 573.9L859.6 574.0L861.6 574.2L863.6 574.3L865.6 574.5L866.0 574.5L865.7 577.6L865.3 577.6L863.3 577.4L861.3 577.2L859.3 577.0L858.9 577.0ZM871.1 575.0L871.6 575.0L873.6 575.2L875.6 575.4L877.6 575.5L877.9 575.5L877.7 578.6L877.3 578.6L875.3 578.4L873.3 578.2L871.3 578.1L870.9 578.0ZM883.1 576.0L883.6 576.0L885.6 576.1L887.6 576.3L889.6 576.4L889.9 576.5L889.7 579.5L889.4 579.5L887.4 579.3L885.3 579.2L883.3 579.0L882.8 579.0ZM895.0 576.8L895.6 576.9L897.6 577.0L899.6 577.2L901.6 577.3L901.9 577.3L901.7 580.4L901.4 580.3L899.4 580.2L897.4 580.1L895.4 579.9L894.8 579.9ZM907.0 577.7L907.6 577.7L909.6 577.8L911.6 578.0L913.6 578.1L913.8 578.1L913.7 581.1L913.4 581.1L911.4 581.0L909.4 580.9L907.4 580.7L906.8 580.7ZM919.0 578.4L919.6 578.4L921.6 578.6L923.6 578.7L925.6 578.8L925.8 578.8L925.7 581.8L925.4 581.8L923.4 581.7L921.4 581.6L919.4 581.5L918.8 581.4ZM930.9 579.1L931.6 579.1L933.6 579.2L935.6 579.3L937.6 579.5L937.8 579.5L937.6 582.5L937.4 582.5L935.4 582.4L933.4 582.3L931.4 582.2L930.8 582.1ZM942.9 579.7L943.6 579.8L945.6 579.9L947.6 580.0L949.6 580.1L949.8 580.1L949.6 583.1L949.5 583.1L947.5 583.0L945.5 582.9L943.5 582.8L942.7 582.8ZM954.9 580.3L955.6 580.3L957.6 580.4L959.6 580.5L961.6 580.6L961.8 580.6L961.6 583.6L961.5 583.6L959.5 583.5L957.5 583.5L955.5 583.4L954.7 583.3ZM966.9 580.8L967.6 580.9L969.6 580.9L971.6 581.0L973.6 581.1L973.8 581.1L973.6 584.1L973.5 584.1L971.5 584.1L969.5 584.0L967.5 583.9L966.7 583.9ZM978.8 581.3L979.6 581.3L981.6 581.4L983.6 581.5L985.6 581.6L985.7 581.6L985.6 584.6L985.5 584.6L983.5 584.5L981.5 584.4L979.5 584.4L978.7 584.3ZM990.8 581.8L991.6 581.8L993.6 581.9L995.6 581.9L997.6 582.0L997.7 582.0L997.6 585.0L997.5 585.0L995.5 585.0L993.5 584.9L991.5 584.8L990.7 584.8ZM1002.8 582.2L1003.6 582.2L1005.6 582.3L1007.6 582.3L1009.6 582.4L1009.7 582.4L1009.6 585.4L1009.6 585.4L1007.5 585.3L1005.5 585.3L1003.5 585.2L1002.7 585.2Z"/>
</g>
</svg>
<svg id="lbl" width="1088" height="650" viewBox="0 0 1088 650">
<defs><filter id="al" x="0" y="0" width="1088" height="650" filterUnits="userSpaceOnUse" color-interpolation-filters="sRGB"><feComponentTransfer><feFuncA type="discrete" tableValues="0 0 1 1 1"/></feComponentTransfer><feGaussianBlur stdDeviation="0.3"/></filter></defs>
<g filter="url(#al)">
<g fill="#4b4b4b" stroke="#4b4b4b">
<text x="50.70" y="50.0">1</text>
<text x="16.70" y="325.0">0.1</text>
<text x="0.60 16.10 33.70 50.70" y="600.0" style="letter-spacing:0">0.01</text>
<text x="1051.20" y="600.0">0<tspan font-size="30.5" dx="-0.6" dy="2.4">°</tspan></text>
<text x="1051.20" y="545.0">9<tspan font-size="30.5" dx="-0.6" dy="2.4">°</tspan></text>
<text x="1034.20" y="490.0">18<tspan font-size="30.5" dx="-0.6" dy="2.4">°</tspan></text>
<text x="1034.20" y="435.0">27<tspan font-size="30.5" dx="-0.6" dy="2.4">°</tspan></text>
<text x="1034.20" y="380.0">36<tspan font-size="30.5" dx="-0.6" dy="2.4">°</tspan></text>
<text x="1034.20" y="325.0">45<tspan font-size="30.5" dx="-0.6" dy="2.4">°</tspan></text>
<text x="1034.20" y="270.0">54<tspan font-size="30.5" dx="-0.6" dy="2.4">°</tspan></text>
<text x="1034.20" y="215.0">63<tspan font-size="30.5" dx="-0.6" dy="2.4">°</tspan></text>
<text x="1034.20" y="160.0">72<tspan font-size="30.5" dx="-0.6" dy="2.4">°</tspan></text>
<text x="1034.20" y="105.0">81<tspan font-size="30.5" dx="-0.6" dy="2.4">°</tspan></text>
<text x="1034.20" y="50.0">90<tspan font-size="30.5" dx="-0.6" dy="2.4">°</tspan></text>
<text x="259.75" y="640.0">100Hz</text>
<text x="575.92" y="640.0">1KHz</text>
<text x="875.08" y="640.0">10KHz</text>
</g>
<text x="258.30" y="30.4" fill="#d000cc" stroke="#d000cc">V<tspan dy="-2.7">(</tspan><tspan dy="2.7">vout</tspan><tspan dy="-2.7">)</tspan></text>
<text x="726.50" y="30.4" fill="#f0d800" stroke="#f0d800">V<tspan dy="-2.7">(</tspan><tspan dy="2.7">vin</tspan><tspan dy="-2.7">)</tspan></text>
</g>
</svg>
</body></html>
